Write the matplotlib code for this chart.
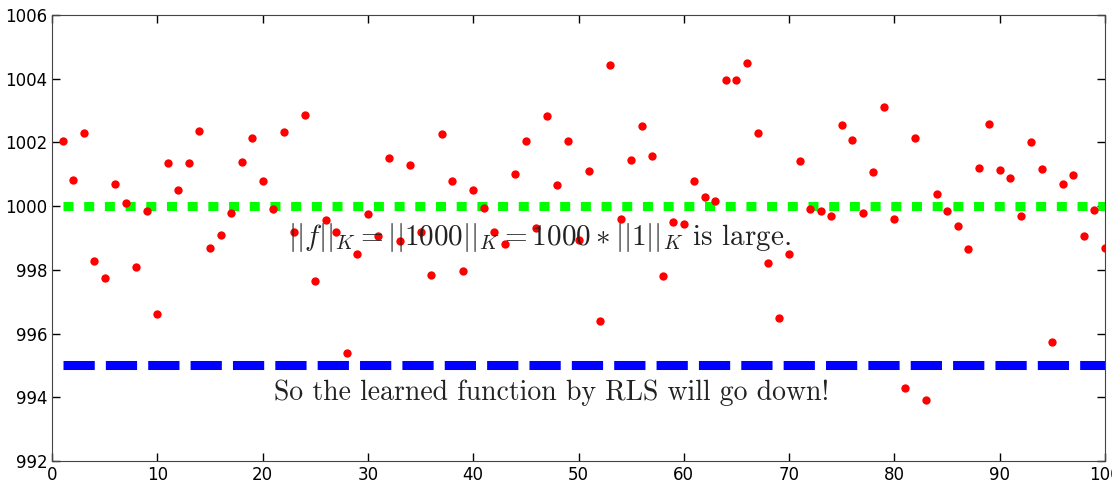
import matplotlib
matplotlib.use("Agg")
import matplotlib.pyplot as plt
import numpy as np

# sample values
xs = np.arange(1, 101)
ys = [1002.05, 1000.82, 1002.30, 998.28, 997.75, 1000.70, 1000.10, 998.10, 999.85, 996.60,
      1001.35, 1000.50, 1001.35, 1002.35, 998.70, 999.10, 999.80, 1001.40, 1002.15, 1000.80,
      999.90, 1002.33, 999.20, 1002.87, 997.65, 999.55, 999.20, 995.40, 998.50, 999.75,
      999.05, 1001.50, 998.90, 1001.30, 999.20, 997.85, 1002.25, 1000.80, 997.95, 1000.50,
      999.95, 999.20, 998.80, 1001.00, 1002.05, 999.30, 1002.83, 1000.65, 1002.05, 998.95,
      1001.10, 996.40, 1004.43, 999.60, 1001.45, 1002.50, 1001.57, 997.80, 999.50, 999.45,
      1000.80, 1000.30, 1000.15, 1003.96, 1003.96, 1004.50, 1002.30, 998.20, 996.50, 998.50,
      1001.42, 999.90, 999.85, 999.70, 1002.55, 1002.08, 999.78, 1001.07, 1003.10, 999.60,
      994.30, 1002.14, 993.92, 1000.38, 999.85, 999.37, 998.65, 1001.20, 1002.58, 1001.13,
      1000.88, 999.70, 1002.00, 1001.15, 995.73, 1000.70, 1000.98, 999.05, 999.88, 998.70]
true_level = 1000
rls_level = 995
label_top = r"$||f||_K = ||1000||_K = 1000 * ||1||_K$ is large."
label_bottom = "So the learned function by RLS will go down!"

plt.rcParams["mathtext.fontset"] = "cm"
plt.rcParams["lines.scale_dashes"] = False

fig = plt.figure(figsize=(11.12, 4.83), dpi=100)
ax = fig.add_axes([0.0468, 0.0455, 0.9469, 0.9235])

ax.plot([xs[0], xs[-1]], [true_level, true_level], color=(0, 1, 0), linewidth=6.5,
        dashes=(7.2, 7.7), solid_capstyle="butt", dash_capstyle="butt")
ax.plot([xs[0], xs[-1]], [rls_level, rls_level], color=(0, 0, 1), linewidth=6.5,
        dashes=(22.5, 8.0), solid_capstyle="butt", dash_capstyle="butt")
ax.plot(xs, ys, "o", color="red", markersize=6, markeredgewidth=0)

ax.text(46.3, 999.0, label_top, fontsize=21, family="cmr10", ha="center", va="center",
        color="#222222")
ax.text(47.4, 994.15, label_bottom, fontsize=20, family="cmr10", ha="center", va="center",
        color="#222222")

ax.set_xlim(0, 100)
ax.set_ylim(992, 1006)
ax.set_xticks(np.arange(0, 101, 10))
ax.set_yticks(np.arange(992, 1007, 2))
ax.tick_params(direction="in", top=True, right=True, length=6, labelsize=12, width=1)
for s in ax.spines.values():
    s.set_color("#444444")

fig.savefig("out.png", dpi=100)
